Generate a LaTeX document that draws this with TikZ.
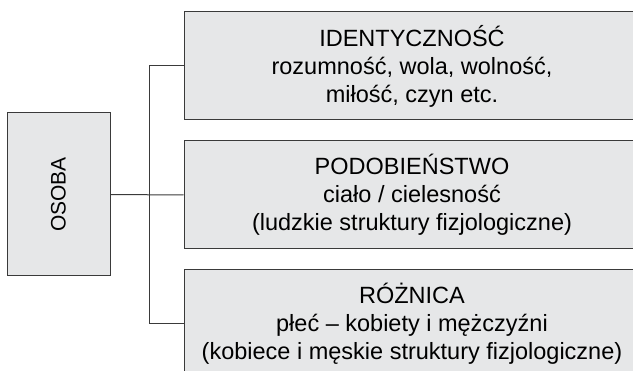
\documentclass[tikz,border=0pt]{standalone}
\usepackage{fontspec}
\setmainfont{Liberation Sans}
\usetikzlibrary{positioning}
\definecolor{boxfill}{HTML}{E6E7E8}
\definecolor{boxline}{HTML}{3A3A3A}
\tikzset{
  box/.style={draw=boxline, fill=boxfill, line width=1pt, inner sep=0pt, align=center,
    font=\fontsize{23.5}{28}\selectfont},
  topic/.style={box, minimum width=456pt, minimum height=108pt},
  link/.style={draw=boxline, line width=1pt}
}
\begin{document}
\begin{tikzpicture}[x=1pt, y=-1pt]
  \useasboundingbox (0,0) rectangle (633,371);
  \node[box, minimum width=103pt, minimum height=163pt, font=\fontsize{21}{25}\selectfont] (osoba) at (58.5,194.5) {\rotatebox{90}{OSOBA}};
  \node[topic] (ident) at (412,66) {IDENTYCZNOŚĆ\\rozumność, wola, wolność,\\miłość, czyn etc.};
  \node[topic, below=20pt of ident] (podob) {PODOBIEŃSTWO\\ciało / cielesność\\(ludzkie struktury fizjologiczne)};
  \node[topic, below=20pt of podob] (roznica) {RÓŻNICA\\płeć – kobiety i mężczyźni\\(kobiece i męskie struktury fizjologiczne)};
  \coordinate (bus) at (149,66); % vertical bar
  \draw[link] (osoba.east) -- (podob.west);
  \draw[link] (ident.west) -- (bus) |- (roznica.west);
\end{tikzpicture}
\end{document}
